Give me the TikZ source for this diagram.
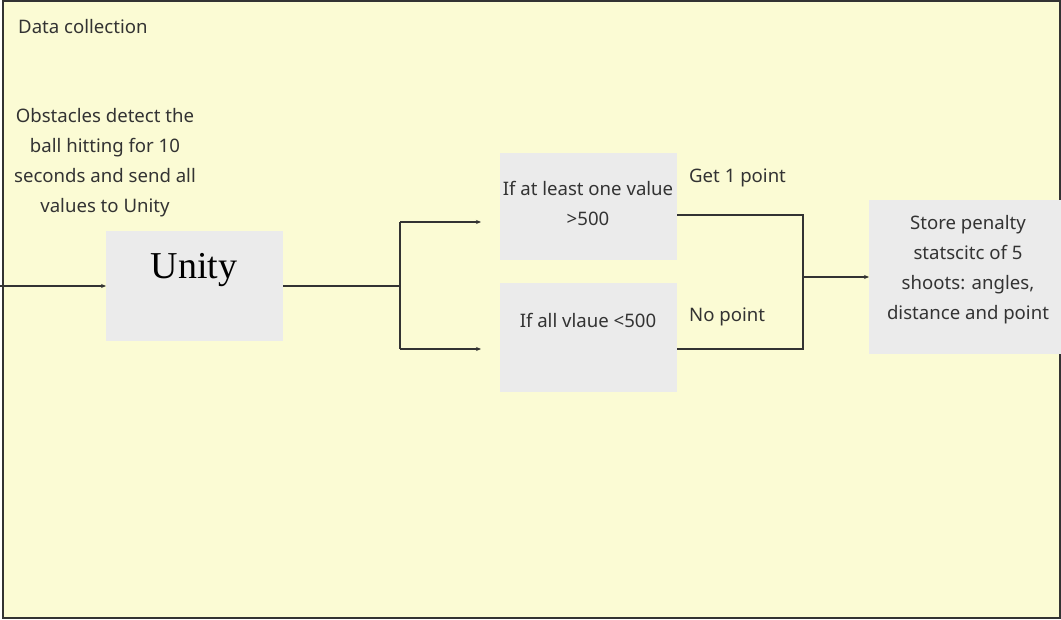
\documentclass[tikz,border=0pt]{standalone}
\usepackage{fontspec}
\setmainfont{Noto Sans}
\newfontfamily\unityfont{Liberation Serif}
\usetikzlibrary{arrows.meta}
\definecolor{paper}{HTML}{FBFBD4}
\definecolor{boxgray}{HTML}{EBEBEB}
\definecolor{ink}{HTML}{333333}
\begin{document}
\begin{tikzpicture}[x=1pt,y=-1pt,
  every node/.style={text=ink, font=\fontsize{18.6}{30}\selectfont},
  stepbox/.style={fill=boxgray, draw=none, inner sep=0pt, anchor=north west},
  txt/.style={align=center, inner sep=0pt},
  link/.style={draw=ink, line width=1.1pt},
  arrow/.style={link, -{Stealth[length=5pt,width=4pt]}}]
\useasboundingbox (0,0) rectangle (1061,620);
% frame of the data collection stage
\draw[fill=paper, draw=ink, line width=1.4pt] (3,1) rectangle (1060,618);
\node[txt, anchor=west] (title) at (18,27) {Data collection};

% Unity block and its description
\node[txt] (desc) at (105,163) {Obstacles detect the\\ball hitting for 10\\seconds and send all\\values to Unity};
\node[stepbox, minimum width=177pt, minimum height=110pt] (unity) at (106,231) {};
\node[txt, font=\unityfont\fontsize{38}{40}\selectfont, text=black] (unitylabel) at (194,270) {Unity};

% decision blocks
\node[stepbox, minimum width=177pt, minimum height=107pt] (high) at (500,153) {};
\node[txt] (hightext) at (588,203) {If at least one value\\>500};
\node[stepbox, minimum width=177pt, minimum height=109pt] (low) at (500,283) {};
\node[txt] (lowtext) at (588,320) {If all vlaue <500};
\node[txt, anchor=west] (getpt) at (689,178) {Get 1 point};
\node[txt, anchor=west] (nopt) at (689,317) {No point};

% result block
\node[stepbox, minimum width=192pt, minimum height=154pt] (store) at (869,200) {};
\node[txt] (storetext) at (968,270) {Store penalty\\statscitc of 5\\shoots: angles,\\distance and point};

% connectors
\coordinate (in) at (0,286);
\coordinate (split) at (400,286);
\coordinate (splittop) at (400,222);
\coordinate (splitbot) at (400,349);
\coordinate (hightip) at (481,222);
\coordinate (lowtip) at (481,349);
\coordinate (mergetop) at (803,215);
\coordinate (mergebot) at (803,349);
\coordinate (merge) at (803,277);

\draw[arrow] (in) -- (unity.west |- in);
\draw[link] (unity.east |- split) -- (split);
\draw[link] (splittop) -- (splitbot);
\draw[arrow] (splittop) -- (hightip);
\draw[arrow] (splitbot) -- (lowtip);
\draw[link] (high.east |- mergetop) -- (mergetop) -- (mergebot) -- (low.east |- mergebot);
\draw[arrow] (merge) -- (store.west |- merge);
\end{tikzpicture}
\end{document}
